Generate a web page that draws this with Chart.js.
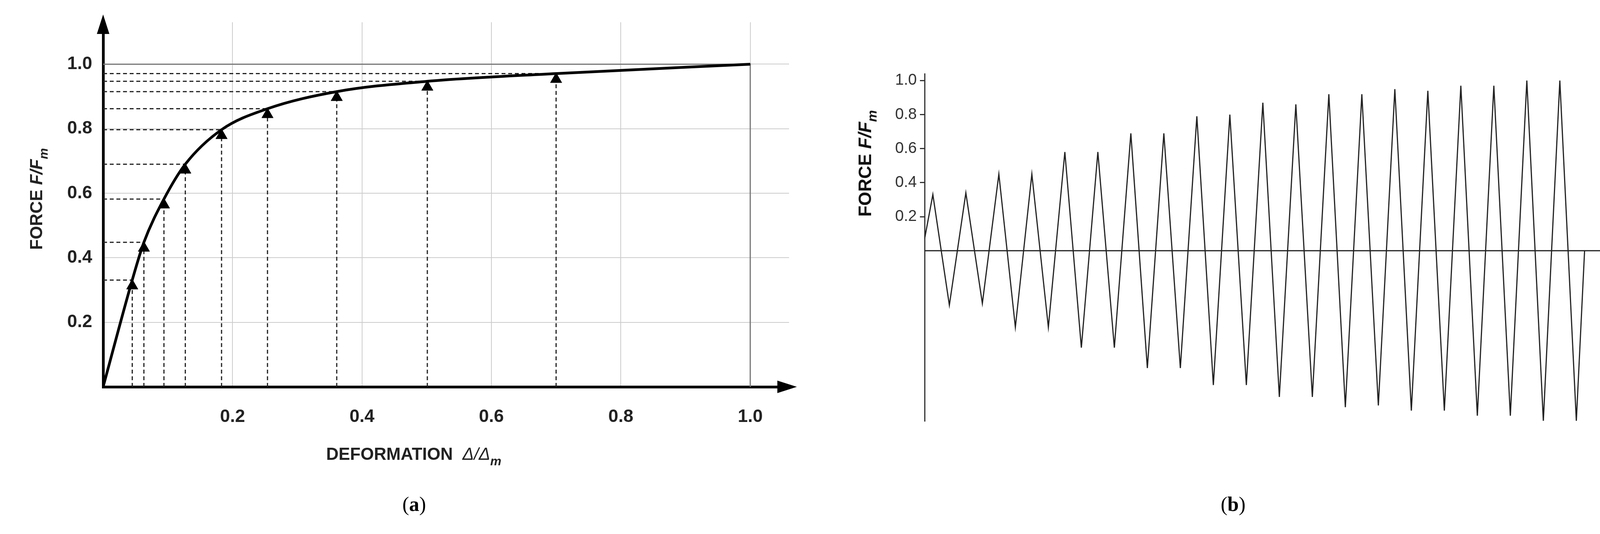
<!DOCTYPE html>
<html>
<head>
<meta charset="utf-8">
<script src="https://cdn.jsdelivr.net/npm/chart.js@4/dist/chart.umd.min.js"></script>
<style>
  body { margin: 0; background: #fff; width: 4142px; height: 1368px; position: relative; overflow: hidden; }
  .box { position: absolute; top: 0; height: 1240px; }
  .cap { position: absolute; top: 1262px; font: 52px "Liberation Serif", serif; }
</style>
</head>
<body>
<div class="box" style="left:0;width:2100px"><canvas id="chartA" width="2100" height="1240"></canvas></div>
<div class="box" style="left:2100px;width:2042px"><canvas id="chartB" width="2042" height="1240"></canvas></div>
<div class="cap" style="left:1030px">(<b>a</b>)</div>
<div class="cap" style="left:3125px">(<b>b</b>)</div>
<script>
// panel (a): envelope curve, points where dashed guides meet it
const curveX = [0, 0.045, 0.063, 0.094, 0.127, 0.183, 0.254, 0.361, 0.501, 0.700, 1.0];
const curveY = [0, 0.331, 0.448, 0.582, 0.690, 0.797, 0.862, 0.915, 0.947, 0.971, 1.0];
const tickValues = [0.2, 0.4, 0.6, 0.8, 1.0];

// panel (b): cyclic load history, one value per quarter cycle step
const cycleY = [0.07, 0.33, 0, -0.32, 0, 0.34, 0, -0.31, 0, 0.45, 0, -0.45, 0, 0.45, 0, -0.45,
  0, 0.58, 0, -0.57, 0, 0.58, 0, -0.57, 0, 0.69, 0, -0.69, 0, 0.69, 0, -0.69,
  0, 0.79, 0, -0.79, 0, 0.80, 0, -0.79, 0, 0.87, 0, -0.86, 0, 0.86, 0, -0.86,
  0, 0.92, 0, -0.92, 0, 0.92, 0, -0.91, 0, 0.95, 0, -0.94, 0, 0.94, 0, -0.94,
  0, 0.97, 0, -0.97, 0, 0.97, 0, -0.97, 0, 1.0, 0, -1.0, 0, 1.0, 0, -1.0, 0];

const boldFont = '"Liberation Sans", Arial, sans-serif';

// draw text made of segments [text, font, dy]
const drawSegments = (ctx, segs, x, y) => {
  segs.forEach(([t, f, dy]) => {
    ctx.font = f;
    ctx.fillText(t, x, y + (dy || 0));
    x += ctx.measureText(t).width;
  });
};

const arrowsA = {
  id: "arrowsA",
  afterDraw(chart) {
    const { ctx, chartArea: a } = chart;
    ctx.save();
    ctx.fillStyle = "#000";
    ctx.beginPath();
    ctx.moveTo(a.left, a.top - 20); ctx.lineTo(a.left - 16, a.top + 30); ctx.lineTo(a.left + 16, a.top + 30);
    ctx.fill();
    ctx.beginPath();
    ctx.moveTo(a.right + 20, a.bottom); ctx.lineTo(a.right - 30, a.bottom - 16); ctx.lineTo(a.right - 30, a.bottom + 16);
    ctx.fill();
    // axis titles
    ctx.fillStyle = "#222";
    ctx.textBaseline = "alphabetic";
    drawSegments(ctx, [["DEFORMATION  ", "bold 44px " + boldFont], ["Δ/Δ", "italic 44px " + boldFont], ["m", "italic bold 32px " + boldFont, 14]], 835, 1178);
    ctx.translate(108, 640);
    ctx.rotate(-Math.PI / 2);
    drawSegments(ctx, [["FORCE ", "bold 44px " + boldFont], ["F/F", "italic bold 44px " + boldFont], ["m", "italic bold 32px " + boldFont, 14]], 0, 0);
    ctx.restore();
  },
};

const guides = [];
for (let i = 1; i < curveX.length - 1; i++) {
  guides.push({ data: [{ x: 0, y: curveY[i] }, { x: curveX[i], y: curveY[i] }] });
  guides.push({ data: [{ x: curveX[i], y: 0 }, { x: curveX[i], y: curveY[i] }] });
}

new Chart(document.getElementById("chartA"), {
  type: "scatter",
  data: {
    datasets: [
      {
        data: curveX.map((x, i) => ({ x, y: curveY[i] })),
        showLine: true, borderColor: "#000", borderWidth: 7, pointRadius: 0,
        cubicInterpolationMode: "monotone", order: 0,
      },
      {
        data: curveX.slice(1, -1).map((x, i) => ({ x, y: curveY[i + 1] - 0.018 })),
        pointStyle: "triangle", pointRadius: 17, backgroundColor: "#000", borderColor: "#000", order: 0,
      },
      ...guides.map((g) => ({
        ...g, showLine: true, borderColor: "#222", borderWidth: 3, borderDash: [10, 7], pointRadius: 0, order: 1,
      })),
      {
        data: [{ x: 0, y: 1 }, { x: 1, y: 1 }, { x: 1, y: 0 }],
        showLine: true, borderColor: "#777", borderWidth: 3, pointRadius: 0, order: 2,
      },
    ],
  },
  options: {
    responsive: false, animation: false,
    layout: { padding: { top: 57, right: 80, left: 0, bottom: 0 } },
    plugins: { legend: { display: false }, tooltip: { enabled: false } },
    scales: {
      x: {
        type: "linear", min: 0, max: 1.06,
        afterBuildTicks: (s) => { s.ticks = tickValues.map((v) => ({ value: v })); },
        afterFit: (s) => { s.height = 249; },
        border: { color: "#000", width: 7 },
        grid: { color: "#ccc", lineWidth: 2, drawTicks: false },
        ticks: { font: { size: 46, family: boldFont, weight: "bold" }, color: "#222", padding: 50, callback: (v) => v.toFixed(1) },
      },
      y: {
        type: "linear", min: 0, max: 1.13,
        afterBuildTicks: (s) => { s.ticks = tickValues.map((v) => ({ value: v })); },
        afterFit: (s) => { s.width = 264; },
        border: { color: "#000", width: 7 },
        grid: { color: "#ccc", lineWidth: 2, drawTicks: false },
        ticks: { font: { size: 46, family: boldFont, weight: "bold" }, color: "#222", padding: 28, callback: (v) => v.toFixed(1) },
      },
    },
  },
  plugins: [arrowsA],
});

const titleB = {
  id: "titleB",
  afterDraw(chart) {
    const { ctx } = chart;
    ctx.save();
    ctx.fillStyle = "#111";
    ctx.translate(130, 555);
    ctx.rotate(-Math.PI / 2);
    drawSegments(ctx, [["FORCE ", "bold 46px " + boldFont], ["F/F", "italic bold 46px " + boldFont], ["m", "italic bold 34px " + boldFont, 14]], 0, 0);
    ctx.restore();
  },
};

new Chart(document.getElementById("chartB"), {
  type: "scatter",
  data: {
    datasets: [
      {
        data: cycleY.map((y, i) => ({ x: i, y })).filter((p, i) => i === 0 || i === cycleY.length - 1 || i % 2 === 1),
        showLine: true, borderColor: "#222", borderWidth: 3, pointRadius: 0,
      },
      {
        data: [{ x: 0, y: 0 }, { x: 82.2, y: 0 }],
        showLine: true, borderColor: "#222", borderWidth: 3, pointRadius: 0,
      },
    ],
  },
  options: {
    responsive: false, animation: false,
    layout: { padding: { top: 189, right: 39, left: 0, bottom: 162 } },
    plugins: { legend: { display: false }, tooltip: { enabled: false } },
    scales: {
      x: { type: "linear", min: 0, max: 82.2, display: false },
      y: {
        type: "linear", min: -1.0, max: 1.04,
        afterBuildTicks: (s) => { s.ticks = tickValues.map((v) => ({ value: v })); },
        afterFit: (s) => { s.width = 267; },
        border: { color: "#333", width: 3 },
        grid: { drawOnChartArea: false, color: "#333", lineWidth: 3, tickLength: 12 },
        ticks: { font: { size: 40, family: boldFont }, color: "#333", padding: 8, callback: (v) => v.toFixed(1) },
      },
    },
  },
  plugins: [titleB],
});
</script>
</body>
</html>
